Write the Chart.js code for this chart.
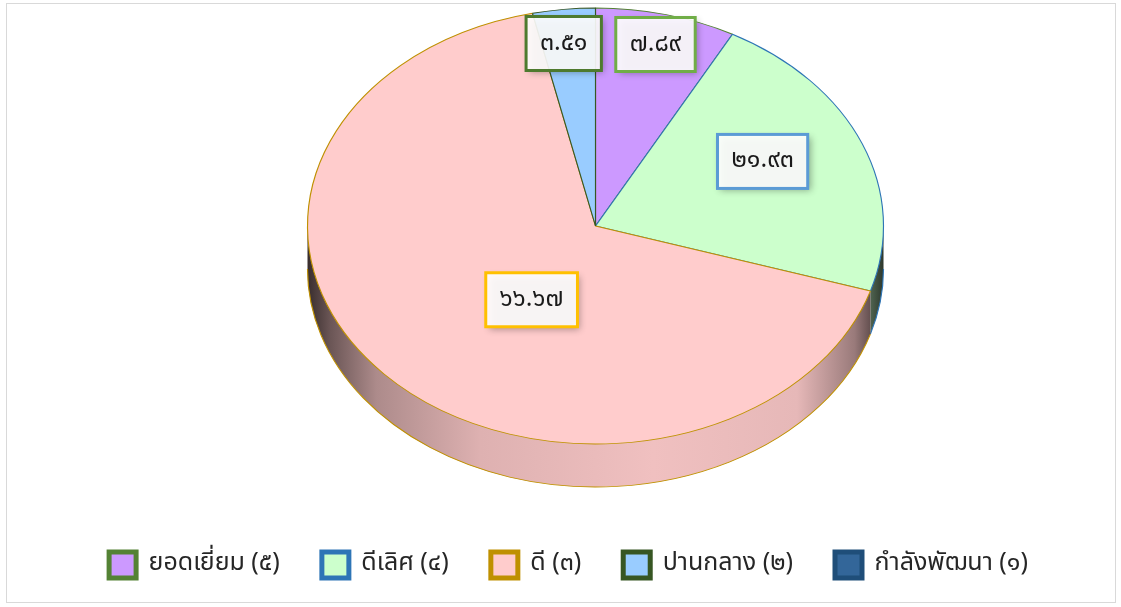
<!DOCTYPE html>
<html>
<head>
<meta charset="utf-8">
<script src="https://cdn.jsdelivr.net/npm/chart.js@4"></script>
<style>
  html, body { margin: 0; padding: 0; background: #ffffff; }
  #frame {
    position: absolute; left: 6px; top: 3px; width: 1110px; height: 600px;
    border: 1px solid #d9d9d9; box-sizing: border-box;
  }
  #chart { position: absolute; left: 0; top: 0; }
</style>
</head>
<body>
<div id="frame"></div>
<canvas id="chart" width="1121" height="607"></canvas>
<script>
// ข้อมูล
const categories = ["ยอดเยี่ยม", "ดีเลิศ", "ดี", "ปานกลาง", "กำลังพัฒนา"];
const levels = [5, 4, 3, 2, 1];
const percents = [7.89, 21.93, 66.67, 3.51, 0];

const fillColors = ["#cc99ff", "#ccffcc", "#ffcccc", "#99ccff", "#336699"];
const edgeColors = ["#548235", "#2e75b6", "#bf9000", "#375623", "#1f4e79"];
const labelBorders = ["#70ad47", "#5b9bd5", "#ffc000", "#4e7a2e", "#1f4e79"];

// pie look (ellipse + depth), px
const PIE = { rx: 288, ry: 218, depth: 43, dx: 27 };
// label nudges from the default anchor (3/4 of radius on mid angle)
const labelNudge = [[7, -23], [-33, -3], [95, -37], [-8, -20], [0, 0]];

const thaiDigits = "๐๑๒๓๔๕๖๗๘๙";
const toThai = (s) => String(s).replace(/\d/g, (d) => thaiDigits[d]);

const FONT = "'Noto Sans Thai', 'Noto Sans', sans-serif";
Chart.defaults.font.family = FONT;

function shade(hex, f) {
  const n = parseInt(hex.slice(1), 16);
  const r = Math.round(((n >> 16) & 255) * f);
  const g = Math.round(((n >> 8) & 255) * f);
  const b = Math.round((n & 255) * f);
  return `rgb(${r},${g},${b})`;
}

function pieTransform(chart) {
  const el = chart.getDatasetMeta(0).data[0];
  const R = el.outerRadius;
  return {
    el, R,
    sx: PIE.rx / R,
    sy: PIE.ry / R,
    cx: el.x + PIE.dx,
    cy: chart.chartArea.top + PIE.ry,
  };
}

const pie3d = {
  id: "pie3d",
  beforeDatasetsDraw(chart) {
    const ctx = chart.ctx;
    const t = pieTransform(chart);
    const { el, R } = t;
    ctx.save();
    ctx.translate(t.cx, t.cy);
    ctx.scale(t.sx, t.sy);
    ctx.translate(-el.x, -el.y);
    const h = PIE.depth / t.sy;
    const stops = [[0, 0.22], [0.04, 0.42], [0.12, 0.68], [0.3, 0.87], [0.6, 0.94], [0.85, 0.9], [0.95, 0.6], [1, 0.22]];
    chart.getDatasetMeta(0).data.forEach((arc, i) => {
      const s = Math.max(arc.startAngle, 0);
      const e = Math.min(arc.endAngle, Math.PI);
      if (e <= s) return;
      const grad = ctx.createLinearGradient(el.x - R, 0, el.x + R, 0);
      stops.forEach(([p, f]) => grad.addColorStop(p, shade(fillColors[i], f)));
      ctx.beginPath();
      ctx.arc(el.x, el.y, R, s, e);
      ctx.arc(el.x, el.y + h, R, e, s, true);
      ctx.closePath();
      ctx.fillStyle = grad;
      ctx.fill();
      ctx.beginPath();
      ctx.arc(el.x, el.y + h, R, s, e);
      ctx.strokeStyle = edgeColors[i];
      ctx.lineWidth = 1;
      ctx.stroke();
    });
    // keep transform for the top surface drawn by Chart.js
  },
  afterDatasetsDraw(chart) {
    const ctx = chart.ctx;
    ctx.restore();
    const t = pieTransform(chart);
    const { el } = t;
    ctx.save();
    ctx.font = `25px ${FONT}`;
    ctx.textAlign = "center";
    ctx.textBaseline = "middle";
    chart.getDatasetMeta(0).data.forEach((arc, i) => {
      if (!percents[i]) return;
      const mid = (arc.startAngle + arc.endAngle) / 2;
      const r = arc.outerRadius * 0.75;
      const lx = arc.x + Math.cos(mid) * r;
      const ly = arc.y + Math.sin(mid) * r;
      const x = t.cx + t.sx * (lx - el.x) + labelNudge[i][0];
      const y = t.cy + t.sy * (ly - el.y) + labelNudge[i][1];
      const text = toThai(percents[i].toFixed(2));
      const w = ctx.measureText(text).width + 28;
      const bh = 54;
      ctx.save();
      ctx.shadowColor = "rgba(0,0,0,0.35)";
      ctx.shadowBlur = 7;
      ctx.shadowOffsetX = 3;
      ctx.shadowOffsetY = 3;
      ctx.fillStyle = "rgba(255,255,255,0.9)";
      ctx.fillRect(x - w / 2, y - bh / 2, w, bh);
      ctx.restore();
      ctx.lineWidth = 3;
      ctx.strokeStyle = labelBorders[i];
      ctx.strokeRect(x - w / 2, y - bh / 2, w, bh);
      ctx.fillStyle = "#1a1a1a";
      ctx.fillText(text, x, y + 1);
    });
    ctx.restore();
  },
};

new Chart(document.getElementById("chart"), {
  type: "pie",
  data: {
    labels: categories,
    datasets: [
      {
        data: percents,
        backgroundColor: fillColors,
        borderColor: edgeColors,
        borderWidth: 1,
        clip: false,
      },
    ],
  },
  options: {
    responsive: false,
    animation: false,
    events: [],
    layout: { padding: { top: 8, bottom: 19, left: 16, right: 0 } },
    plugins: {
      tooltip: { enabled: false },
      legend: {
        position: "bottom",
        labels: {
          boxWidth: 27,
          boxHeight: 26,
          padding: 42,
          useBorderRadius: true,
          borderRadius: 3,
          color: "#262626",
          font: { size: 25 },
          generateLabels: () =>
            categories.map((c, i) => ({
              text: `${c} (${toThai(levels[i])})`,
              fillStyle: fillColors[i],
              strokeStyle: edgeColors[i],
              lineWidth: 5,
              fontColor: "#262626",
              hidden: false,
              index: i,
            })),
        },
      },
    },
  },
  plugins: [pie3d],
});
</script>
</body>
</html>
